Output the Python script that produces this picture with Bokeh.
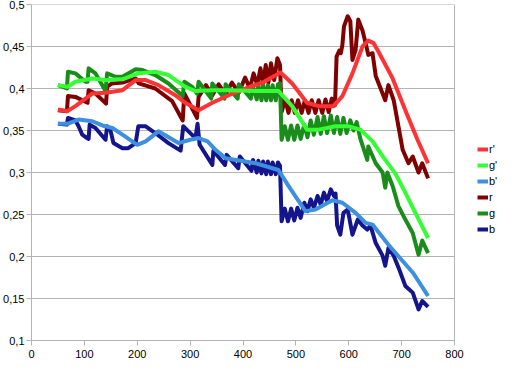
from bokeh.plotting import figure
from bokeh.models import Legend, LegendItem, FixedTicker, CustomJSTickFormatter, Range1d
from bokeh.embed import file_html
from bokeh.resources import INLINE

x_ticks = [0, 100, 200, 300, 400, 500, 600, 700, 800]
y_ticks = [0.1, 0.15, 0.2, 0.25, 0.3, 0.35, 0.4, 0.45, 0.5]

series_names = ["r'", "g'", "b'", "r", "g", "b"]
series_colors = ["#ff3333", "#33ff33", "#3d8fdf", "#800000", "#1a8c1a", "#14148c"]

r_prime = [(50, .375), (68, .373), (83, .379), (115, .394), (140, .395), (172, .398), (197, .410),
           (216, .410), (240, .404), (272, .392), (291, .383), (316, .374), (342, .383), (373, .392),
           (405, .400), (440, .408), (471, .419), (493, .406), (521, .383), (543, .379), (571, .379),
           (588, .391), (607, .418), (626, .450), (637, .457), (647, .454), (656, .444), (683, .412),
           (707, .374), (730, .339), (750, .311)]

g_prime = [(50, .404), (68, .402), (83, .408), (115, .412), (140, .410), (172, .411), (202, .418),
           (234, .420), (259, .416), (291, .402), (310, .397), (342, .398), (373, .398), (424, .397),
           (467, .397), (493, .379), (521, .351), (543, .351), (575, .355), (600, .355), (622, .351),
           (645, .337), (669, .315), (688, .299), (707, .276), (726, .252), (750, .222)]

b_prime = [(50, .358), (68, .358), (89, .363), (115, .361), (134, .356), (153, .353), (172, .345),
           (200, .333), (216, .337), (240, .349), (278, .335), (300, .339), (316, .341), (333, .337),
           (348, .327), (367, .317), (424, .311), (467, .303), (486, .284), (518, .254), (537, .256),
           (569, .267), (588, .264), (613, .252), (632, .240), (645, .238), (675, .214), (721, .181),
           (750, .153)]

r_raw = [(50, .374), (67, .373), (69, .391), (83, .390), (106, .383), (108, .398), (121, .394),
         (141, .382), (143, .402), (152, .406), (172, .407), (197, .412), (203, .406), (234, .400),
         (266, .385), (286, .362), (289, .394), (313, .365), (316, .390), (330, .404), (342, .392),
         (354, .405), (367, .393), (379, .407), (392, .395), (404, .413), (413, .400), (420, .418),
         (427, .404), (433, .424), (438, .406), (443, .428), (448, .407), (453, .430), (459, .410),
         (465, .436), (470, .428), (473, .372), (480, .387), (486, .371), (492, .386), (498, .371),
         (504, .386), (511, .371), (517, .386), (524, .371), (530, .386), (537, .371), (543, .386),
         (550, .371), (556, .387), (562, .372), (568, .388), (574, .380), (577, .438), (582, .445),
         (585, .442), (588, .452), (591, .474), (598, .486), (603, .480), (607, .434), (613, .446),
         (618, .482), (626, .469), (632, .454), (637, .440), (645, .442), (651, .415), (664, .394),
         (669, .386), (675, .404), (685, .386), (694, .355), (702, .327), (713, .311), (721, .319),
         (732, .300), (739, .311), (750, .293)]

g_raw = [(50, .404), (67, .400), (69, .420), (83, .418), (102, .408), (106, .408), (108, .424),
         (121, .418), (140, .397), (143, .418), (159, .414), (172, .414), (197, .423), (210, .422),
         (234, .416), (259, .406), (286, .391), (289, .408), (304, .402), (313, .394), (316, .408),
         (340, .388), (342, .406), (365, .388), (367, .405), (390, .388), (392, .405), (415, .388),
         (418, .404), (426, .387), (429, .404), (435, .386), (438, .404), (444, .386), (447, .404),
         (453, .386), (456, .404), (462, .386), (466, .405), (470, .406), (473, .339), (479, .355),
         (485, .339), (491, .356), (497, .339), (503, .356), (509, .340), (516, .357), (522, .342),
         (528, .362), (534, .345), (541, .366), (547, .346), (553, .367), (559, .347), (566, .368),
         (572, .347), (578, .366), (584, .346), (590, .365), (596, .347), (603, .362), (609, .350),
         (615, .360), (622, .340), (635, .315), (637, .331), (651, .311), (664, .300), (669, .282),
         (673, .300), (683, .284), (694, .260), (707, .244), (721, .228), (732, .202), (739, .219),
         (750, .204)]

b_raw = [(50, .358), (67, .357), (69, .365), (83, .362), (89, .355), (96, .345), (105, .341),
         (108, .340), (110, .357), (121, .353), (140, .339), (143, .355), (149, .351), (155, .335),
         (172, .329), (183, .329), (197, .335), (202, .355), (216, .355), (234, .347), (259, .335),
         (282, .326), (287, .355), (297, .349), (310, .341), (314, .358), (318, .333), (342, .309),
         (344, .326), (366, .309), (369, .321), (391, .305), (394, .319), (416, .302), (419, .315),
         (426, .300), (429, .314), (435, .299), (438, .313), (444, .298), (447, .313), (453, .298),
         (456, .312), (462, .298), (466, .312), (470, .308), (473, .242), (479, .257), (485, .242),
         (491, .257), (497, .243), (503, .258), (509, .246), (516, .264), (522, .254), (528, .268),
         (534, .258), (541, .272), (547, .262), (553, .276), (559, .266), (566, .280), (572, .272),
         (575, .275), (578, .237), (584, .226), (590, .252), (598, .256), (607, .226), (617, .244),
         (626, .237), (635, .232), (641, .237), (651, .216), (664, .201), (669, .189), (675, .210),
         (685, .201), (694, .187), (707, .165), (721, .157), (732, .137), (739, .147), (750, .140)]

all_series = [r_prime, g_prime, b_prime, r_raw, g_raw, b_raw]

FONT = "Liberation Sans"
GRID = "#b3b3b3"

X_MIN, X_MAX = 0, 800
Y_MIN, Y_MAX = 0.1, 0.5
PLOT_W, FRAME_W = 423, 467   # plotting area width vs frame (frame also holds the legend)
x_end = X_MAX * FRAME_W / PLOT_W

p = figure(width=495, height=363, frame_width=FRAME_W, frame_height=336,
           x_range=Range1d(X_MIN, x_end), y_range=Range1d(Y_MIN, Y_MAX),
           output_backend="svg", toolbar_location=None,
           min_border_left=28, min_border_right=0, min_border_top=4, min_border_bottom=23)

p.background_fill_color = "white"
p.border_fill_color = "white"
p.outline_line_color = None

p.xaxis.ticker = FixedTicker(ticks=x_ticks)
p.xaxis.bounds = (X_MIN, X_MAX)
p.yaxis.ticker = FixedTicker(ticks=y_ticks)
p.yaxis.formatter = CustomJSTickFormatter(
    code="return (Math.round(tick*100)/100).toString().replace('.', ',');")
for ax in (p.xaxis, p.yaxis):
    ax.axis_line_color = GRID
    ax.major_tick_line_color = GRID
    ax.minor_tick_line_color = None
    ax.major_tick_in = 0
    ax.major_tick_out = 5
    ax.major_label_text_font = FONT
    ax.major_label_text_font_size = "11px"
    ax.major_label_text_color = "black"
p.xaxis.major_label_standoff = 4
p.yaxis.major_label_standoff = 2

p.xgrid.grid_line_color = None
p.ygrid.grid_line_color = None

# horizontal gridlines limited to the plotting area, plus right border
p.segment(x0=[X_MIN] * len(y_ticks), y0=y_ticks, x1=[X_MAX] * len(y_ticks), y1=y_ticks,
          line_color=GRID, line_width=1)
p.segment(x0=[X_MAX], y0=[Y_MIN], x1=[X_MAX], y1=[Y_MAX], line_color=GRID, line_width=1)

renderers = {}
# draw raw (dark) series first, smoothed on top
for idx in [3, 4, 5, 0, 1, 2]:
    pts = all_series[idx]
    xs = [pt[0] for pt in pts]
    ys = [pt[1] for pt in pts]
    renderers[idx] = p.line(xs, ys, line_color=series_colors[idx], line_width=4,
                            line_join="round")

items = [LegendItem(label=series_names[i], renderers=[renderers[i]]) for i in range(6)]
legend = Legend(items=items, location=(446, 103), orientation="vertical",
                glyph_width=11, glyph_height=16, label_height=16, spacing=0,
                padding=0, margin=0, label_standoff=1,
                label_text_font=FONT, label_text_font_size="11px", label_text_color="black",
                border_line_color=None, background_fill_alpha=0)
p.add_layout(legend)

open("out.html", "w").write(file_html(p, INLINE))
